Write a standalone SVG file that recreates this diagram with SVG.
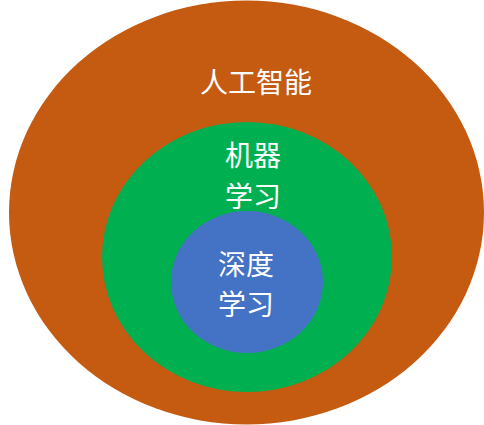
<svg xmlns="http://www.w3.org/2000/svg" width="484" height="425" viewBox="0 0 484 425">
<style>
.lbl{font-family:"Noto Sans CJK SC","Noto Sans",sans-serif;font-size:28px;fill:#FFFFFF;text-anchor:middle}
</style>
<rect width="484" height="425" fill="#FFFFFF"/>
<g id="ai">
<ellipse cx="246.5" cy="212.5" rx="237.5" ry="212" fill="#C55A11"/>
<text class="lbl" x="256" y="93">人工智能</text>
</g>
<g id="ml">
<ellipse cx="247" cy="257" rx="145" ry="135" fill="#00B050"/>
<text class="lbl" x="253" y="166">机器</text>
<text class="lbl" x="253" y="207">学习</text>
</g>
<g id="dl">
<ellipse cx="247" cy="282" rx="76" ry="71" fill="#4472C4"/>
<text class="lbl" x="246" y="275">深度</text>
<text class="lbl" x="246" y="315">学习</text>
</g>
<g id="connectors"/>
</svg>
